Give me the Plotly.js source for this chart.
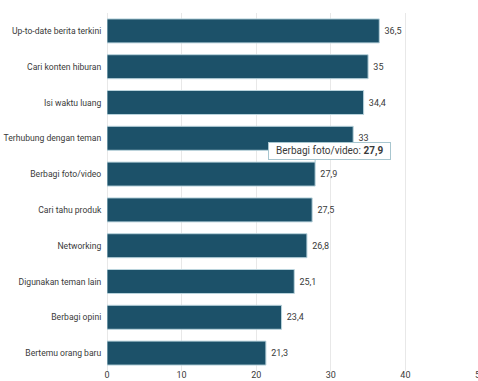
<!DOCTYPE html>
<html>
<head>
<meta charset="utf-8">
<script src="https://cdn.plot.ly/plotly-3.0.1.min.js"></script>
<style>
html,body{margin:0;padding:0;overflow:hidden;background:#fff;}
#chart{width:490px;height:381px;}
</style>
</head>
<body>
<div id="chart"></div>
<script>
const categories = ["Up-to-date berita terkini","Cari konten hiburan","Isi waktu luang","Terhubung dengan teman","Berbagi foto/video","Cari tahu produk","Networking","Digunakan teman lain","Berbagi opini","Bertemu orang baru"];
const values = [36.5, 35, 34.4, 33, 27.9, 27.5, 26.8, 25.1, 23.4, 21.3];
const valueLabels = ["36,5","35","34,4","33","27,9","27,5","26,8","25,1","23,4","21,3"];
const xTicks = [0, 10, 20, 30, 40, 50];
const hoverCategory = "Berbagi foto/video";
const hoverValue = 27.9;
const hoverLabel = "27,9";

const FONT = 'Roboto, "Liberation Sans", sans-serif';
const NB = '\u00a0\u00a0';

const trace = {
  type: 'bar',
  orientation: 'h',
  y: categories,
  x: values,
  text: valueLabels.map(t => '\u00a0' + t),
  textposition: 'outside',
  cliponaxis: false,
  textfont: {family: FONT, size: 9, color: '#3a3a3a'},
  marker: {color: '#1c5169', line: {color: '#b9d3dc', width: 1}},
  hoverinfo: 'none'
};

const layout = {
  width: 490, height: 381,
  margin: {l: 107, r: 10, t: 13, b: 10},
  paper_bgcolor: '#fff', plot_bgcolor: '#fff',
  bargap: 0.33,
  showlegend: false,
  font: {family: FONT, size: 9, color: '#3a3a3a'},
  xaxis: {range: [0, 50], tickvals: xTicks, ticktext: xTicks.map(String), showgrid: true, gridcolor: '#e8e8e8', zeroline: true, zerolinecolor: '#e8e8e8', showline: false, ticks: '', ticklabelstandoff: -3, ticklabeloverflow: 'allow', fixedrange: true, tickfont: {family: FONT, size: 9, color: '#3a3a3a'}},
  yaxis: {autorange: 'reversed', showgrid: false, showline: false, ticks: 'outside', ticklen: 3, tickcolor: 'rgba(0,0,0,0)', fixedrange: true, tickfont: {family: FONT, size: 8.6, color: '#3a3a3a'}},
  annotations: [{
    x: hoverValue, y: hoverCategory, xref: 'x', yref: 'y',
    text: NB + hoverCategory + ': <b>' + hoverLabel + '</b>' + NB,
    showarrow: false, xanchor: 'center', yanchor: 'bottom', yshift: 14, xshift: 14,
    bgcolor: '#ffffff', bordercolor: '#a8c6cf', borderwidth: 1, borderpad: 2,
    font: {family: FONT, size: 10, color: '#3a3a3a'}
  }, {
    x: hoverValue, y: hoverCategory, xref: 'x', yref: 'y',
    text: '', showarrow: true, arrowhead: 0, arrowwidth: 1, arrowcolor: '#a8c6cf',
    ax: 0, ay: -4, standoff: 0, yshift: 12
  }]
};

Plotly.newPlot('chart', [trace], layout, {displayModeBar: false, staticPlot: true});
</script>
</body>
</html>
